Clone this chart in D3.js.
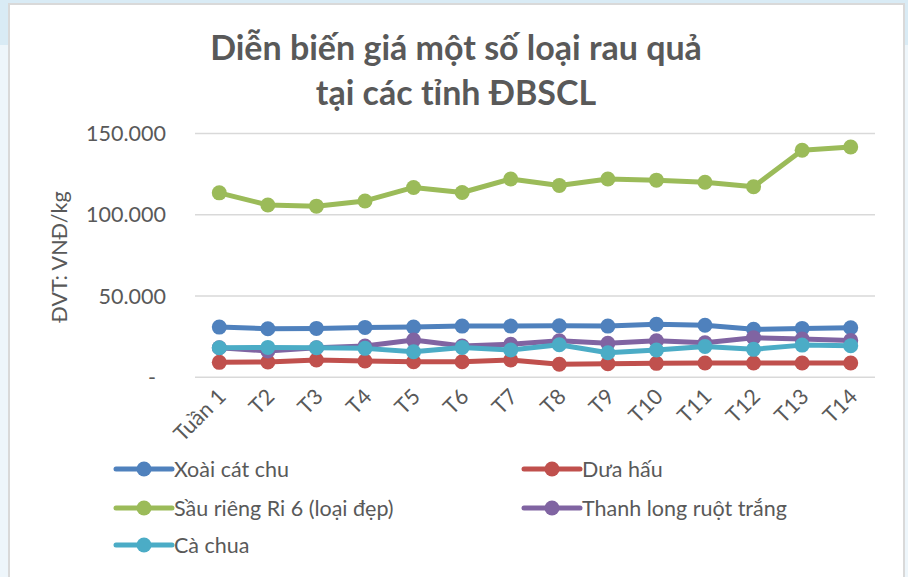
<!DOCTYPE html>
<meta charset="utf-8">
<style>
body { margin: 0; background: #eef6fb; }
.frame { fill: #fff; stroke: #d9d9d9; stroke-width: 2px; }
.grid line { stroke: #d9d9d9; stroke-width: 1.5px; }
.lbl { font-family: Lato, "Open Sans", sans-serif; fill: #595959; font-size: 21.5px; }
.title { font-family: Lato, "Open Sans", sans-serif; fill: #595959; font-size: 34px; font-weight: bold; }
.line { fill: none; stroke-width: 5px; stroke-linejoin: round; }
</style>
<body>
<script src="https://d3js.org/d3.v7.min.js"></script>
<script>

// weeks
var weeks = ["Tuần 1", "T2", "T3", "T4", "T5", "T6", "T7", "T8", "T9", "T10", "T11", "T12", "T13", "T14"];

// prices (VND/kg)
var xoai      = [30900, 29900, 30100, 30700, 30900, 31500, 31500, 31700, 31500, 32600, 32000, 29500, 30100, 30500];
var duaHau    = [9200, 9400, 10600, 10000, 9600, 9600, 10600, 8000, 8400, 8600, 8800, 8800, 8800, 8800];
var sauRieng  = [113500, 106000, 105300, 108500, 116800, 113700, 122000, 118000, 122000, 121300, 120000, 117200, 139700, 141700];
var thanhLong = [18200, 16200, 18200, 19200, 22900, 19200, 20300, 22500, 20900, 22500, 21300, 24400, 23500, 22700];
var caChua    = [18200, 18400, 18200, 17800, 15700, 18400, 16800, 20000, 15100, 16800, 19000, 17200, 19800, 19400];

var yTicks = [0, 50000, 100000, 150000];

var series = [
  {name: "Xoài cát chu", values: xoai, color: "#4f81bd"},
  {name: "Dưa hấu", values: duaHau, color: "#c0504d"},
  {name: "Sầu riêng Ri 6 (loại đẹp)", values: sauRieng, color: "#9bbb59"},
  {name: "Thanh long ruột trắng", values: thanhLong, color: "#8064a2"},
  {name: "Cà chua", values: caChua, color: "#4bacc6"}
];

var W = 908, H = 577;
var svg = d3.select("body").append("svg")
    .attr("width", W)
    .attr("height", H);

// light blue backdrop, darker at the top
svg.append("rect").attr("width", W).attr("height", 45).attr("fill", "#d9ebf5");
svg.append("rect").attr("class", "frame")
    .attr("x", 9).attr("y", 4).attr("width", 895).attr("height", 590);

// title
svg.append("text").attr("class", "title")
    .attr("x", 456).attr("y", 60).attr("text-anchor", "middle")
    .text("Diễn biến giá một số loại rau quả");
svg.append("text").attr("class", "title")
    .attr("x", 456).attr("y", 105).attr("text-anchor", "middle")
    .text("tại các tỉnh ĐBSCL");

var x = d3.scalePoint().domain(weeks).range([195, 875]).padding(0.5);
var y = d3.scaleLinear().domain([0, 150000]).range([377.3, 133.5]);

// gridlines
svg.append("g").attr("class", "grid")
  .selectAll("line").data(yTicks).enter().append("line")
    .attr("x1", 195).attr("x2", 875)
    .attr("y1", function(d) { return y(d); })
    .attr("y2", function(d) { return y(d); });

// y labels
var fmt = function(d) { return d === 0 ? "-" : d3.format(",")(d).replace(/,/g, "."); };
svg.append("g").selectAll("text").data(yTicks).enter().append("text")
    .attr("class", "lbl")
    .attr("x", function(d) { return d === 0 ? 156 : 166; })
    .attr("y", function(d) { return y(d); })
    .attr("dy", "0.35em")
    .attr("text-anchor", "end")
    .text(fmt);

// y axis title
svg.append("text").attr("class", "lbl")
    .attr("transform", "translate(67,257) rotate(-90)")
    .attr("text-anchor", "middle")
    .text("ĐVT: VNĐ/kg");

// x labels
svg.append("g").selectAll("text").data(weeks).enter().append("text")
    .attr("class", "lbl")
    .attr("text-anchor", "end")
    .attr("transform", function(d) { return "translate(" + (x(d) + 8) + ",398) rotate(-45)"; })
    .text(function(d) { return d; });

// lines + dots
var valueline = d3.line()
    .x(function(d, i) { return x(weeks[i]); })
    .y(function(d) { return y(d); });

series.forEach(function(s) {
  var g = svg.append("g");
  g.append("path")
      .attr("class", "line")
      .attr("stroke", s.color)
      .attr("d", valueline(s.values));
  g.selectAll("circle").data(s.values).enter().append("circle")
      .attr("cx", function(d, i) { return x(weeks[i]); })
      .attr("cy", function(d) { return y(d); })
      .attr("r", 7.5)
      .attr("fill", s.color);
});

// legend
var legPos = [[116, 469], [524, 469], [116, 508], [524, 508], [116, 545]];
series.forEach(function(s, i) {
  var lx = legPos[i][0], ly = legPos[i][1];
  var g = svg.append("g").attr("transform", "translate(" + lx + "," + ly + ")");
  g.append("line").attr("x1", 0).attr("x2", 56).attr("y1", 0).attr("y2", 0)
      .attr("stroke", s.color).attr("stroke-width", 5).attr("stroke-linecap", "round");
  g.append("circle").attr("cx", 28).attr("cy", 0).attr("r", 7.5).attr("fill", s.color);
  g.append("text").attr("class", "lbl").attr("x", 58).attr("dy", "0.35em").text(s.name);
});

</script>
</body>
